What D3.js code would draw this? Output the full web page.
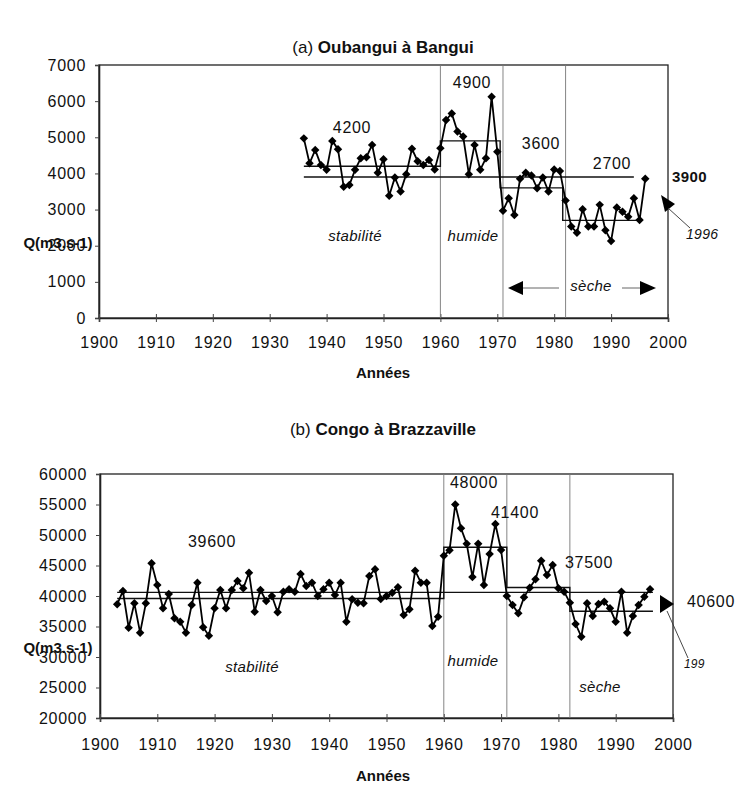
<!DOCTYPE html>
<html><head><meta charset="utf-8">
<script src="https://cdn.jsdelivr.net/npm/d3@7"></script>
<style>
body{margin:0;background:#fff;}
svg{font-family:"Liberation Sans",Arial,sans-serif;}
</style></head>
<body><svg id="c" width="746" height="787"></svg>
<script>
// ---------- DATA ----------
const yearsA = d3.range(1936, 1997);
const flowA = [4970,4280,4650,4230,4100,4900,4670,3630,3680,4100,4420,4450,4790,4020,4390,3380,3890,3500,3980,4680,
  4340,4230,4370,4110,4700,5480,5660,5160,5020,3980,4790,4100,4420,6120,4600,2970,3310,2850,3850,4020,
  3940,3590,3890,3500,4110,4070,3250,2530,2360,3010,2530,2530,3130,2430,2130,3060,2940,2800,3310,2710,3850];
const segStartA = [1936, 1960, 1970.5, 1981.5];
const segEndA   = [1960, 1970.5, 1981.5, 1995];
const segMeanA  = [4200, 4900, 3600, 2700];
const overallA  = 3900;
const overallSpanA = [1936, 1994];
const breaksA = [1960, 1971, 1982];
const yTicksA = [0,1000,2000,3000,4000,5000,6000,7000];

const yearsB = d3.range(1903, 1997);
const flowB = [38640,40820,34810,38800,33990,38800,45360,41800,37980,40330,36340,35790,33990,38520,42180,34870,33500,37980,40980,37980,
  40980,42460,41260,43820,37430,40980,39180,40000,37330,40710,41100,40710,43610,41640,42180,40000,41100,42180,40160,42180,
  35790,39460,38900,38800,43280,44380,39510,40000,40540,41420,36890,37820,44150,42180,42180,35080,36610,46600,47500,55000,
  51100,48550,43100,48550,41800,46890,51800,47540,40000,38520,37160,39780,41370,42730,45790,43440,45080,41260,40710,38900,
  35410,33330,38800,36720,38690,39070,37980,35790,40710,33990,36720,38520,39890,41100];
const segStartB = [1903, 1960, 1971, 1982];
const segEndB   = [1960, 1971, 1982, 1996.5];
const segMeanB  = [39600, 48000, 41400, 37500];
const overallB  = 40600;
const overallSpanB = [1903, 1996.5];
const breaksB = [1960, 1971, 1982];
const yTicksB = [20000,25000,30000,35000,40000,45000,50000,55000,60000];

const xTicks = [1900,1910,1920,1930,1940,1950,1960,1970,1980,1990,2000];

// ---------- DRAW ----------
const svg = d3.select("#c");
const LS = "0.7px";

function panel(o){
  const g = svg.append("g");
  const x = d3.scaleLinear().domain([1900,2000]).range(o.xr);
  const y = d3.scaleLinear().domain(o.yd).range(o.yr);

  g.append("rect").attr("x",o.xr[0]).attr("y",o.yr[1]).attr("width",o.xr[1]-o.xr[0]).attr("height",o.yr[0]-o.yr[1])
    .attr("fill","none").attr("stroke","#222").attr("stroke-width",1.3);

  const ya = g.append("g").attr("transform",`translate(${o.xr[0]},0)`)
    .call(d3.axisLeft(y).tickValues(o.yTicks).tickFormat(d3.format("d")).tickSize(4).tickPadding(9));
  ya.select(".domain").attr("stroke","#222").attr("stroke-width",1.6);
  ya.selectAll("text").attr("font-size",16).attr("letter-spacing",LS).attr("fill","#111");
  ya.selectAll("line").attr("stroke","#444");

  const xa = g.append("g").attr("transform",`translate(0,${o.yr[0]})`)
    .call(d3.axisBottom(x).tickValues(xTicks).tickFormat(d3.format("d")).tickSize(4).tickPadding(o.xPad));
  xa.select(".domain").attr("stroke","#222").attr("stroke-width",1.6);
  xa.selectAll(".tick line").attr("y1",-4).attr("y2",4).attr("stroke","#444");
  xa.selectAll("text").attr("font-size",16).attr("letter-spacing",LS).attr("fill","#111");

  g.selectAll(".brk").data(o.breaks).join("line")
    .attr("x1",d=>x(d)).attr("x2",d=>x(d)).attr("y1",o.yr[1]).attr("y2",o.yr[0])
    .attr("stroke","#777").attr("stroke-width",0.9);

  g.append("line").attr("x1",x(o.overallSpan[0])).attr("x2",x(o.overallSpan[1]))
    .attr("y1",y(o.overall)).attr("y2",y(o.overall)).attr("stroke","#111").attr("stroke-width",1.4);

  const pts = [];
  o.segStart.forEach((s,i)=>{ pts.push([s,o.segMean[i]]); pts.push([o.segEnd[i],o.segMean[i]]); });
  g.append("path").attr("d",d3.line().x(d=>x(d[0])).y(d=>y(d[1]))(pts))
    .attr("fill","none").attr("stroke","#111").attr("stroke-width",1.4);

  const data = o.years.map((yr,i)=>[yr,o.flow[i]]);
  g.append("path").attr("d",d3.line().x(d=>x(d[0])).y(d=>y(d[1]))(data))
    .attr("fill","none").attr("stroke","#000").attr("stroke-width",1.8);
  const sym = d3.symbol().type(d3.symbolSquare).size(36);
  g.selectAll(".pt").data(data).join("path")
    .attr("d",sym).attr("transform",d=>`translate(${x(d[0])},${y(d[1])}) rotate(45)`).attr("fill","#000");

  const t = g.append("text").attr("x",383).attr("y",o.titleY).attr("text-anchor","middle").attr("font-size",17).attr("fill","#111");
  t.append("tspan").text(o.titlePre);
  t.append("tspan").attr("font-weight","bold").text(o.titleMain);
  g.append("text").attr("x",383).attr("y",o.xLabelY).attr("text-anchor","middle").attr("font-size",15)
    .attr("font-weight","bold").attr("fill","#111").text("Années");
  g.append("text").attr("x",o.qX).attr("y",o.qY).attr("text-anchor","middle").attr("font-size",15)
    .attr("font-weight","bold").attr("fill","#111").text("Q(m3.s-1)");
  return {g,x,y};
}

function lbl(g,x,y,txt,opt={}){
  return g.append("text").attr("x",x).attr("y",y).attr("text-anchor",opt.anchor||"middle")
    .attr("font-size",opt.size||16).attr("letter-spacing",opt.ls||LS).attr("font-style",opt.italic?"italic":null)
    .attr("font-weight",opt.bold?"bold":null).attr("fill","#111").text(txt);
}

// (a)
const A = panel({xr:[99,668], yr:[318,65], yd:[0,7000], yTicks:yTicksA, xPad:15,
  years:yearsA, flow:flowA, segStart:segStartA, segEnd:segEndA, segMean:segMeanA,
  overall:overallA, overallSpan:overallSpanA, breaks:breaksA,
  titleY:53, titlePre:"(a) ", titleMain:"Oubangui à Bangui", xLabelY:378, qX:58, qY:248});

lbl(A.g,352,133,"4200");
lbl(A.g,472,88,"4900");
lbl(A.g,541,149,"3600");
lbl(A.g,612,169,"2700");
lbl(A.g,672,182,"3900",{anchor:"start",bold:true,size:15,ls:"0.4px"});
lbl(A.g,355,241,"stabilité",{italic:true,size:15,ls:"0.3px"});
lbl(A.g,473,241,"humide",{italic:true,size:15,ls:"0.3px"});
lbl(A.g,591,291,"sèche",{italic:true,size:15,ls:"0.3px"});
lbl(A.g,686,239,"1996",{anchor:"start",italic:true,size:14,ls:"0.3px"});
A.g.append("line").attr("x1",522).attr("x2",559).attr("y1",288).attr("y2",288).attr("stroke","#666").attr("stroke-width",1);
A.g.append("line").attr("x1",622).attr("x2",640).attr("y1",288).attr("y2",288).attr("stroke","#666").attr("stroke-width",1);
A.g.append("path").attr("d","M508,288 L523,281 L523,295 Z").attr("fill","#000");
A.g.append("path").attr("d","M656,288 L640,281 L640,295 Z").attr("fill","#000");
A.g.append("path").attr("d","M661,195 L675,204 L665,212 Z").attr("fill","#000");
A.g.append("line").attr("x1",668).attr("y1",208).attr("x2",690).attr("y2",228).attr("stroke","#333").attr("stroke-width",0.9);

// (b)
const B = panel({xr:[100,673], yr:[718,474], yd:[20000,60000], yTicks:yTicksB, xPad:17,
  years:yearsB, flow:flowB, segStart:segStartB, segEnd:segEndB, segMean:segMeanB,
  overall:overallB, overallSpan:overallSpanB, breaks:breaksB,
  titleY:435, titlePre:"(b) ", titleMain:"Congo à Brazzaville", xLabelY:781, qX:58, qY:653});

lbl(B.g,212,547,"39600");
lbl(B.g,474,488,"48000");
lbl(B.g,515,518,"41400");
lbl(B.g,589,568,"37500");
lbl(B.g,687,607,"40600",{anchor:"start"});
lbl(B.g,252,672,"stabilité",{italic:true,size:15,ls:"0.3px"});
lbl(B.g,473,666,"humide",{italic:true,size:15,ls:"0.3px"});
lbl(B.g,600,692,"sèche",{italic:true,size:15,ls:"0.3px"});
lbl(B.g,684,668,"199",{anchor:"start",italic:true,size:12,ls:"0.2px"});
B.g.append("path").attr("d","M660,595 L674,604 L660,613 Z").attr("fill","#000");
B.g.append("line").attr("x1",667).attr("y1",611).attr("x2",688).attr("y2",658).attr("stroke","#333").attr("stroke-width",0.9);
</script></body></html>
